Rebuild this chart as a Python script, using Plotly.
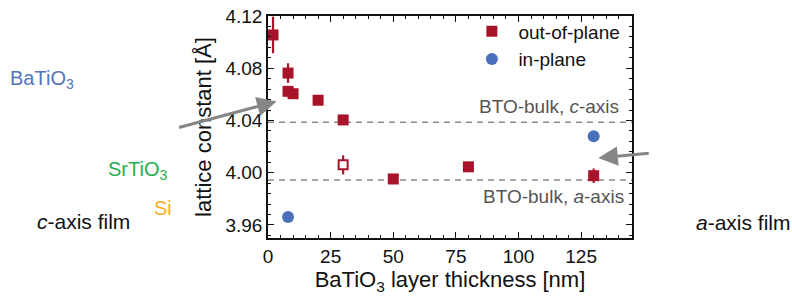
import plotly.graph_objects as go

# ---- data ----
oop_x = [2, 8, 8, 10, 20, 30, 50, 80, 130]
oop_y = [4.1055, 4.0763, 4.0623, 4.0605, 4.0555, 4.0404, 3.9952, 4.0045, 3.9977]
oop_err = [0.014, 0.0075, 0.003, 0.003, 0.003, 0.003, 0.003, 0.003, 0.0055]

open_x = [30]
open_y = [4.006]
open_err = [0.0073]

ip_x = [8, 130]
ip_y = [3.966, 4.028]

bulk_c = 4.0386
bulk_a = 3.9944

RED = "#A8132A"
BLUE = "#4A70BC"
FONT = "Liberation Sans, Arial, sans-serif"

# plot area in pixels
W_PX, H_PX = 792, 299
L, R, T, B = 267.5, 631.7, 12.7, 238.3


def px(x):
    return (x - L) / (R - L)


def py(y):
    return (B - y) / (B - T)


fig = go.Figure()

fig.add_trace(go.Scatter(
    x=oop_x, y=oop_y, mode="markers", name="out-of-plane",
    marker=dict(symbol="square", size=11, color=RED, line=dict(width=0)),
    error_y=dict(type="data", array=oop_err, visible=True, thickness=2.2, width=0, color=RED),
))
fig.add_trace(go.Scatter(
    x=ip_x, y=ip_y, mode="markers", name="in-plane",
    marker=dict(symbol="circle", size=12, color=BLUE, line=dict(width=0)),
))
fig.add_trace(go.Scatter(
    x=open_x, y=open_y, mode="markers", showlegend=False,
    marker=dict(symbol="square", size=9, color="white", line=dict(width=2, color=RED)),
    error_y=dict(type="data", array=open_err, visible=True, thickness=2.2, width=0, color=RED),
))

for yv in (bulk_c, bulk_a):
    fig.add_shape(type="line", xref="paper", x0=0, x1=1, yref="y", y0=yv, y1=yv,
                  line=dict(color="#8a8a8a", width=1.5, dash="6px,5px"), layer="below")

annots = []
# bulk labels
annots.append(dict(text="BTO-bulk, <i>c</i>-axis", x=px(621), y=py(105), xref="paper", yref="paper",
                   xanchor="right", yanchor="middle", showarrow=False,
                   font=dict(size=19, color="#555555", family=FONT)))
annots.append(dict(text="BTO-bulk, <i>a</i>-axis", x=px(626), y=py(196), xref="paper", yref="paper",
                   xanchor="right", yanchor="middle", showarrow=False,
                   font=dict(size=19, color="#555555", family=FONT)))
# outside labels
annots.append(dict(text="BaTiO<sub>3</sub>", x=px(7), y=py(77), xref="paper", yref="paper",
                   xanchor="left", yanchor="middle", showarrow=False,
                   font=dict(size=20, color="#5573B8", family=FONT)))
annots.append(dict(text="SrTiO<sub>3</sub>", x=px(105), y=py(170), xref="paper", yref="paper",
                   xanchor="left", yanchor="middle", showarrow=False,
                   font=dict(size=20, color="#27AE4F", family=FONT)))
annots.append(dict(text="Si", x=px(151), y=py(208), xref="paper", yref="paper",
                   xanchor="left", yanchor="middle", showarrow=False,
                   font=dict(size=20, color="#F6AE25", family=FONT)))
annots.append(dict(text="<i>c</i>-axis film", x=px(34), y=py(222), xref="paper", yref="paper",
                   xanchor="left", yanchor="middle", showarrow=False,
                   font=dict(size=21, color="#111111", family=FONT)))
annots.append(dict(text="<i>a</i>-axis film", x=px(694), y=py(223), xref="paper", yref="paper",
                   xanchor="left", yanchor="middle", showarrow=False,
                   font=dict(size=21, color="#111111", family=FONT)))
# arrows
for (hx, hy, tx, ty) in [(276, 99.5, 177, 126), (598, 157, 650, 152)]:
    annots.append(dict(text="", x=px(hx), y=py(hy), xref="paper", yref="paper",
                       ax=tx - hx, ay=ty - hy, axref="pixel", ayref="pixel",
                       showarrow=True, arrowhead=2, arrowsize=1.3, arrowwidth=3,
                       arrowcolor="#868686", standoff=0))

axis_common = dict(
    showline=True, linecolor="#111111", linewidth=1.5, mirror="ticks",
    ticks="inside", ticklen=6, tickwidth=1.3, tickcolor="#111111",
    showgrid=False, zeroline=False, automargin=False,
    tickfont=dict(size=19, color="#111111", family=FONT),
)

fig.update_layout(
    template="none",
    width=W_PX, height=H_PX, autosize=False,
    margin=dict(l=L, r=W_PX - R, t=T, b=H_PX - B, pad=0),
    paper_bgcolor="white", plot_bgcolor="white",
    font=dict(family=FONT, size=19, color="#111111"),
    xaxis=dict(range=[0, 145.3], tickvals=[0, 25, 50, 75, 100, 125],
               minor=dict(dtick=5, ticks="inside", ticklen=3.5, tickcolor="#111111", tickwidth=1.2),
               title=dict(text="BaTiO<sub>3</sub> layer thickness [nm]", font=dict(size=22), standoff=6),
               **axis_common),
    yaxis=dict(range=[3.95, 4.12], tickvals=[3.96, 4.00, 4.04, 4.08, 4.12], tickformat=".2f",
               minor=dict(dtick=0.008, tick0=3.96, ticks="inside", ticklen=3.5, tickcolor="#111111", tickwidth=1.2),
               title=dict(text="lattice constant [Å]", font=dict(size=22), standoff=8),
               **axis_common),
    legend=dict(x=px(465), y=py(9), xanchor="left", yanchor="top",
                bgcolor="rgba(0,0,0,0)", font=dict(size=19, family=FONT, color="#111111"),
                itemwidth=43, tracegroupgap=0),
    annotations=annots,
    showlegend=True,
)

fig.write_html("out.html", config={"displayModeBar": False},
               post_script="document.body.style.margin='0';document.body.style.overflow='hidden';")
